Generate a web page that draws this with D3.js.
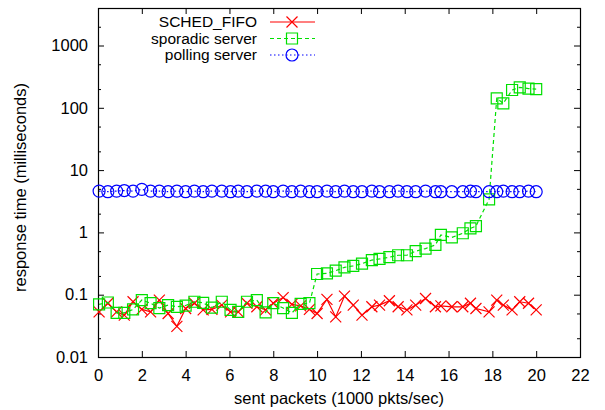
<!DOCTYPE html>
<html>
<head>
<meta charset="utf-8">
<script src="https://cdn.jsdelivr.net/npm/d3@7"></script>
<style>
  body { margin: 0; background: #fff; }
  svg { font-family: "Liberation Sans", Arial, Helvetica, sans-serif; }
</style>
</head>
<body>
<div id="chart"></div>
<script>
// sent packets, 1000 pkts/sec
const rates = [0.05, 0.45, 0.85, 1.2, 1.6, 2.0, 2.4, 2.8, 3.2, 3.6, 4.0, 4.4, 4.8, 5.2, 5.65, 6.05, 6.4, 6.8, 7.25, 7.65,
  8.0, 8.45, 8.85, 9.25, 9.65, 10.0, 10.45, 10.85, 11.25, 11.65, 12.05, 12.5, 12.85, 13.3, 13.7, 14.1, 14.5, 14.95, 15.4, 15.65,
  16.15, 16.65, 17.0, 17.25, 17.85, 18.2, 18.5, 18.9, 19.25, 19.65, 20.0];

// response times in milliseconds
const schedFifo = [0.053, 0.073, 0.053, 0.047, 0.077, 0.058, 0.053, 0.082, 0.050, 0.031, 0.060, 0.073, 0.057, 0.058, 0.068, 0.053, 0.053, 0.073, 0.064, 0.057,
  0.073, 0.090, 0.070, 0.066, 0.058, 0.050, 0.084, 0.044, 0.095, 0.068, 0.047, 0.064, 0.068, 0.080, 0.064, 0.057, 0.068, 0.087, 0.064, 0.066,
  0.064, 0.064, 0.073, 0.060, 0.053, 0.082, 0.068, 0.057, 0.077, 0.073, 0.057];

const sporadicServer = [0.070, 0.075, 0.051, 0.051, 0.058, 0.082, 0.073, 0.061, 0.068, 0.064, 0.067, 0.077, 0.074, 0.062, 0.077, 0.057, 0.053, 0.077, 0.082, 0.052,
  0.073, 0.061, 0.051, 0.071, 0.073, 0.215, 0.22, 0.243, 0.275, 0.29, 0.315, 0.36, 0.375, 0.40, 0.43, 0.43, 0.50, 0.55, 0.63, 0.91,
  0.83, 0.97, 1.16, 1.26, 3.4, 142, 118, 193, 213, 203, 200];

const pollingServer = [4.6, 4.5, 4.6, 4.7, 4.6, 4.9, 4.6, 4.6, 4.5, 4.6, 4.5, 4.6, 4.5, 4.6, 4.6, 4.5, 4.6, 4.5, 4.6, 4.6,
  4.5, 4.6, 4.5, 4.6, 4.5, 4.5, 4.6, 4.5, 4.6, 4.5, 4.5, 4.6, 4.5, 4.5, 4.6, 4.5, 4.5, 4.6, 4.5, 4.5,
  4.5, 4.5, 4.6, 4.5, 4.5, 4.5, 4.6, 4.5, 4.5, 4.6, 4.5];

const seriesNames = ["SCHED_FIFO", "sporadic server", "polling server"];
const xTicks = [0, 2, 4, 6, 8, 10, 12, 14, 16, 18, 20, 22];
const yTicks = [0.01, 0.1, 1, 10, 100, 1000];
const yMinorTicks = [0.02, 0.05, 0.2, 0.5, 2, 5, 20, 50, 200, 500, 2000];

const width = 605;
const height = 410;
const margin = { top: 8, right: 25, bottom: 53, left: 98 };
const innerW = width - margin.left - margin.right;
const innerH = height - margin.top - margin.bottom;

const svg = d3.select('#chart')
  .append('svg')
  .attr('width', width)
  .attr('height', height)
  .style('font-size', '16.5px');

const x = d3.scaleLinear().domain([0, 22]).range([margin.left, margin.left + innerW]);
const y = d3.scaleLog().domain([0.01, 4000]).range([margin.top + innerH, margin.top]);

// axes: gnuplot-style inward ticks, mirrored on top and right
function styleAxis(g) {
  g.select('.domain').remove();
  g.selectAll('line').attr('stroke', '#000').attr('stroke-width', 1);
  g.selectAll('text').attr('fill', '#000').style('font-size', '16.5px')
    .style('font-family', '"Liberation Sans", Arial, sans-serif');
}

svg.append('g')
  .attr('transform', `translate(0,${margin.top + innerH})`)
  .call(d3.axisBottom(x).tickValues(xTicks).tickSize(-6).tickPadding(12).tickFormat(d3.format('d')))
  .call(styleAxis);

svg.append('g')
  .attr('transform', `translate(0,${margin.top})`)
  .call(d3.axisTop(x).tickValues(xTicks).tickSize(-6).tickFormat(''))
  .call(styleAxis);

svg.append('g')
  .attr('transform', `translate(${margin.left},0)`)
  .call(d3.axisLeft(y).tickValues(yTicks).tickSize(-6).tickPadding(10).tickFormat(d3.format('~g')))
  .call(styleAxis);

svg.append('g')
  .attr('transform', `translate(${margin.left},0)`)
  .call(d3.axisLeft(y).tickValues(yMinorTicks).tickSize(-3).tickFormat(''))
  .call(styleAxis);

svg.append('g')
  .attr('transform', `translate(${margin.left + innerW},0)`)
  .call(d3.axisRight(y).tickValues(yTicks).tickSize(-6).tickFormat(''))
  .call(styleAxis);

svg.append('g')
  .attr('transform', `translate(${margin.left + innerW},0)`)
  .call(d3.axisRight(y).tickValues(yMinorTicks).tickSize(-3).tickFormat(''))
  .call(styleAxis);

// plot border
svg.append('rect')
  .attr('x', margin.left + 0.5)
  .attr('y', margin.top + 0.5)
  .attr('width', innerW)
  .attr('height', innerH)
  .attr('fill', 'none')
  .attr('stroke', '#000')
  .attr('stroke-width', 1.2);

// axis titles
svg.append('text')
  .attr('x', x(11))
  .attr('y', height - 6)
  .attr('text-anchor', 'middle')
  .attr('fill', '#000')
  .text('sent packets (1000 pkts/sec)');

svg.append('text')
  .attr('transform', `translate(26,${margin.top + innerH / 2 + 5}) rotate(-90)`)
  .attr('text-anchor', 'middle')
  .attr('fill', '#000')
  .text('response time (milliseconds)');

// marker shapes
const markers = {
  cross: s => `M${-s},${-s}L${s},${s}M${-s},${s}L${s},${-s}`,
  square: s => `M${-s},${-s}H${s}V${s}H${-s}Z`,
  circle: s => `M${-s},0A${s},${s} 0 1,0 ${s},0A${s},${s} 0 1,0 ${-s},0Z`
};

const series = [
  { name: seriesNames[0], values: schedFifo, color: '#ff0000', dash: null, marker: 'cross', size: 5.5 },
  { name: seriesNames[1], values: sporadicServer, color: '#00e000', dash: '4,3', marker: 'square', size: 5.5 },
  { name: seriesNames[2], values: pollingServer, color: '#0000ff', dash: '1.5,2.5', marker: 'circle', size: 6 }
];

const line = d3.line()
  .x(d => x(d.x))
  .y(d => y(d.y));

const plot = svg.append('g');

series.forEach(s => {
  const pts = rates.map((r, i) => ({ x: r, y: s.values[i] }));

  plot.append('path')
    .datum(pts)
    .attr('d', line)
    .attr('fill', 'none')
    .attr('stroke', s.color)
    .attr('stroke-width', 1.2)
    .attr('stroke-dasharray', s.dash);

  plot.selectAll(null)
    .data(pts)
    .enter()
    .append('path')
    .attr('transform', d => `translate(${x(d.x)},${y(d.y)})`)
    .attr('d', markers[s.marker](s.size))
    .attr('fill', 'none')
    .attr('stroke', s.color)
    .attr('stroke-width', 1.2);
});

// legend (top-left, text right-aligned before the sample)
const legend = svg.append('g');
series.forEach((s, i) => {
  const ly = 22 + i * 16.5;
  legend.append('text')
    .attr('x', 257)
    .attr('y', ly)
    .attr('dy', '0.35em')
    .attr('text-anchor', 'end')
    .attr('fill', '#000')
    .style('font-size', '15.5px')
    .text(s.name);
  legend.append('line')
    .attr('x1', 270)
    .attr('x2', 315)
    .attr('y1', ly)
    .attr('y2', ly)
    .attr('stroke', s.color)
    .attr('stroke-width', 1.2)
    .attr('stroke-dasharray', s.dash);
  legend.append('path')
    .attr('transform', `translate(292,${ly})`)
    .attr('d', markers[s.marker](s.size))
    .attr('fill', 'none')
    .attr('stroke', s.color)
    .attr('stroke-width', 1.2);
});
</script>
</body>
</html>
